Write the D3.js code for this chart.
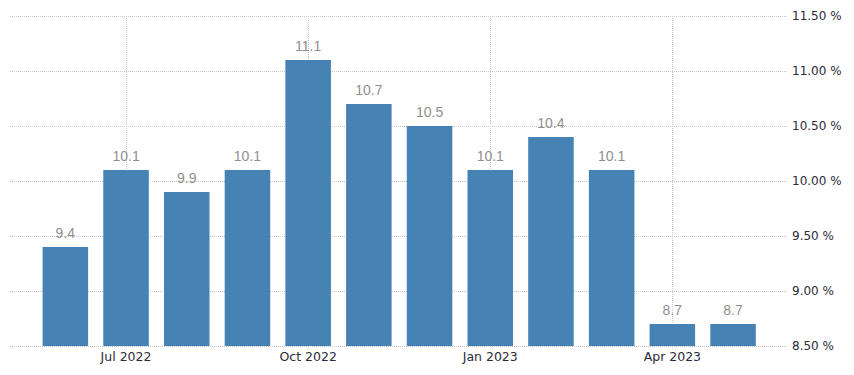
<!DOCTYPE html>
<html>
<head>
<meta charset="utf-8">
<script src="https://cdn.jsdelivr.net/npm/d3@7"></script>
<style>
  body { margin: 0; background: #fff; }
  svg { display: block; font-family: "Liberation Sans", Arial, sans-serif; }
</style>
</head>
<body>
<svg id="chart"></svg>
<script>
const months = ["2022-06", "2022-07", "2022-08", "2022-09", "2022-10", "2022-11",
                "2022-12", "2023-01", "2023-02", "2023-03", "2023-04", "2023-05"];
const values = [9.4, 10.1, 9.9, 10.1, 11.1, 10.7, 10.5, 10.1, 10.4, 10.1, 8.7, 8.7];
const yTicks = [8.5, 9.0, 9.5, 10.0, 10.5, 11.0, 11.5];
const xTicks = ["2022-07", "2022-10", "2023-01", "2023-04"];
const xTickLabels = ["Jul 2022", "Oct 2022", "Jan 2023", "Apr 2023"];

const w = 854, h = 375;
const plotLeft = 10, plotRight = 787;

const svg = d3.select("#chart").attr("width", w).attr("height", h);

const xScale = d3.scaleBand()
    .domain(months)
    .range([35, 35 + 12 * 60.7])
    .paddingInner(0.25)
    .paddingOuter(0.125);

const yScale = d3.scaleLinear()
    .domain([8.5, 11.5])
    .range([346, 16]);

// horizontal grid
svg.append("g")
    .selectAll("line")
    .data(yTicks)
    .join("line")
    .attr("x1", plotLeft)
    .attr("x2", plotRight)
    .attr("y1", d => Math.round(yScale(d)) + 0.5)
    .attr("y2", d => Math.round(yScale(d)) + 0.5)
    .attr("stroke", "#c8c8c8")
    .attr("stroke-dasharray", "1,1");

// vertical grid
svg.append("g")
    .selectAll("line")
    .data(xTicks)
    .join("line")
    .attr("x1", d => Math.round(xScale(d) + xScale.bandwidth() / 2) + 0.5)
    .attr("x2", d => Math.round(xScale(d) + xScale.bandwidth() / 2) + 0.5)
    .attr("y1", yScale(11.5))
    .attr("y2", yScale(8.5) + 4)
    .attr("stroke", "#c8c8c8")
    .attr("stroke-dasharray", "1,1");

// bars
svg.append("g")
    .selectAll("rect")
    .data(months)
    .join("rect")
    .attr("x", d => xScale(d))
    .attr("y", (d, i) => yScale(values[i]))
    .attr("width", xScale.bandwidth())
    .attr("height", (d, i) => yScale(8.5) - yScale(values[i]))
    .attr("fill", "#4682b4");

// value labels
svg.append("g")
    .selectAll("text")
    .data(months)
    .join("text")
    .attr("x", d => xScale(d) + xScale.bandwidth() / 2)
    .attr("y", (d, i) => yScale(values[i]) - 9)
    .attr("text-anchor", "middle")
    .attr("fill", "#8f8f8f")
    .style("font-size", "14px")
    .text((d, i) => values[i].toFixed(1));

// y axis on the right
let yAxis = g => g
    .attr("transform", `translate(${plotRight}, 0)`)
    .call(d3.axisRight(yScale).tickValues(yTicks).tickSize(0).tickPadding(5)
        .tickFormat(d => d3.format(".2f")(d) + " %"))
    .call(g => g.selectAll(".domain").remove())
    .call(g => g.selectAll("text")
        .attr("fill", "#2b2b3a")
        .style("font-size", "12px")
        .style("font-family", "'DejaVu Sans', sans-serif"));

svg.append("g").call(yAxis);

// x axis
let xAxis = g => g
    .attr("transform", `translate(0, ${yScale(8.5)})`)
    .call(d3.axisBottom(xScale).tickValues(xTicks).tickSize(0).tickPadding(6)
        .tickFormat((d, i) => xTickLabels[i]))
    .call(g => g.selectAll(".domain").remove())
    .call(g => g.selectAll("text")
        .attr("fill", "#2b2b3a")
        .style("font-size", "12.5px")
        .style("font-family", "'DejaVu Sans', sans-serif"));

svg.append("g").call(xAxis);
</script>
</body>
</html>
